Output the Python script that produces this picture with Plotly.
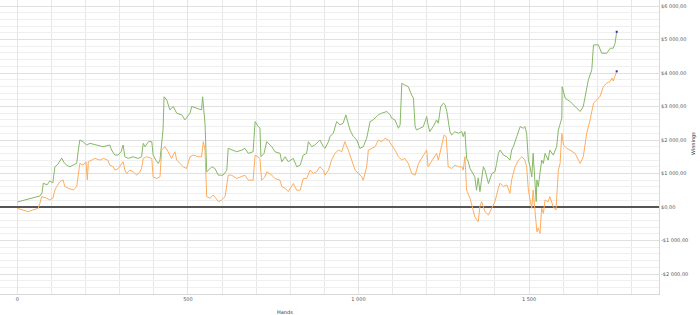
import plotly.graph_objects as go

# Hands / winnings for the green series
green_hands = [0, 22, 51, 66, 72, 76, 87, 95, 104, 110, 119, 130, 136, 144, 154, 163, 174, 178, 183, 192,
               203, 213, 233, 251, 271, 276, 286, 295, 304, 310, 315, 325, 339, 354, 364, 369, 374, 384, 394, 398,
               406, 413, 418, 423, 427, 430, 438, 447, 457, 467, 482, 491, 506, 511, 526, 540, 543, 550, 555, 570,
               579, 589, 603, 614, 618, 629, 643, 658, 667, 677, 691, 697, 706, 711, 714, 723, 731, 746, 755, 770,
               775, 785, 794, 809, 819, 829, 838, 848, 853, 863, 872, 882, 887, 897, 902, 912, 916, 926, 936, 946,
               955, 963, 970, 975, 985, 995, 1004, 1014, 1024, 1034, 1043, 1058, 1068, 1083, 1093, 1097, 1107, 1117, 1122, 1127,
               1136, 1146, 1156, 1161, 1166, 1170, 1180, 1190, 1195, 1200, 1204, 1209, 1219, 1229, 1234, 1241, 1249, 1254, 1259, 1263,
               1268, 1273, 1283, 1293, 1303, 1307, 1312, 1317, 1322, 1327, 1336, 1341, 1346, 1351, 1356, 1366, 1371, 1381, 1391, 1400,
               1405, 1410, 1415, 1425, 1435, 1444, 1449, 1454, 1464, 1474, 1483, 1488, 1493, 1498, 1503, 1508, 1512, 1518, 1521, 1523,
               1527, 1532, 1537, 1542, 1547, 1556, 1561, 1571, 1581, 1586, 1591, 1596, 1597, 1606, 1620, 1635, 1645, 1650, 1659, 1664,
               1674, 1684, 1689, 1703, 1713, 1728, 1738, 1747, 1752, 1757]
green_win = [150, 210, 270, 330, 420, 710, 660, 780, 720, 1200, 1280, 1460, 1340, 1250, 1200, 1250, 1310, 1650, 2000, 1950,
             1850, 1900, 1850, 1800, 1850, 1700, 1550, 1550, 1650, 1850, 1500, 1450, 1500, 1450, 1500, 1900, 1800, 1950, 1950, 1550,
             1400, 1300, 1400, 2050, 2300, 3290, 3190, 2900, 3000, 2800, 2750, 2600, 2800, 3000, 2950, 2900, 3290, 2500, 1050, 1200,
             1150, 950, 950, 1100, 1750, 1700, 1650, 1700, 1750, 1600, 1650, 2550, 2400, 2360, 1500, 1600, 1950, 1800, 1650, 1600,
             1350, 1500, 1350, 1450, 1200, 1250, 1550, 1600, 1950, 1800, 1850, 1950, 2000, 1800, 1750, 1950, 2100, 2200, 2550, 2450,
             2500, 2750, 2450, 2300, 2100, 2000, 1750, 1800, 2050, 2550, 2600, 2750, 2800, 2850, 2750, 2650, 2600, 2350, 2450, 3690,
             3640, 3590, 3340, 3250, 2400, 2300, 2350, 2400, 2550, 2700, 2450, 2250, 2400, 2600, 2500, 3000, 3100, 3050, 2850, 2600,
             2250, 2150, 2250, 2200, 2250, 2100, 2250, 1450, 1350, 1150, 1010, 900, 500, 870, 460, 1200, 1100, 700, 1000, 1050,
             1300, 1600, 1700, 1550, 1500, 1400, 1700, 1800, 2100, 2400, 2350, 2400, 2200, 1400, 1200, 900, 1600, 610, 160, 810,
             610, 1000, 1400, 1300, 1600, 1400, 1700, 1550, 1800, 2300, 2450, 2650, 3590, 3250, 3150, 3000, 2900, 2850, 3000, 3300,
             3800, 4100, 4840, 4840, 4590, 4590, 4740, 4740, 4880, 5230]

# Hands / winnings for the orange series
orange_hands = [0, 17, 32, 45, 61, 66, 71, 86, 95, 104, 110, 115, 125, 134, 139, 149, 164, 174, 178, 183,
                193, 201, 205, 208, 218, 227, 242, 252, 265, 271, 281, 286, 296, 310, 315, 320, 330, 340, 350, 359,
                364, 369, 379, 394, 398, 408, 418, 423, 427, 433, 442, 452, 462, 467, 477, 486, 496, 506, 516, 530,
                540, 545, 550, 555, 565, 574, 582, 589, 599, 609, 618, 628, 643, 658, 667, 677, 691, 697, 706, 711,
                716, 726, 731, 746, 755, 770, 775, 785, 794, 809, 819, 829, 838, 848, 858, 868, 877, 887, 897, 902,
                912, 921, 931, 941, 951, 960, 970, 980, 990, 1000, 1010, 1014, 1024, 1029, 1039, 1049, 1058, 1068, 1078, 1088,
                1097, 1107, 1117, 1127, 1136, 1146, 1156, 1166, 1176, 1185, 1195, 1200, 1204, 1214, 1229, 1234, 1241, 1251, 1257, 1263,
                1273, 1283, 1293, 1303, 1307, 1312, 1317, 1327, 1336, 1341, 1351, 1356, 1361, 1371, 1381, 1391, 1400, 1410, 1415, 1425,
                1435, 1444, 1449, 1459, 1469, 1479, 1488, 1493, 1498, 1503, 1508, 1512, 1518, 1523, 1527, 1532, 1537, 1542, 1547, 1556,
                1561, 1571, 1579, 1586, 1591, 1596, 1601, 1611, 1620, 1635, 1645, 1650, 1659, 1664, 1669, 1679, 1689, 1699, 1708, 1718,
                1728, 1738, 1743, 1747, 1752, 1757]
orange_win = [-40, -90, -140, -90, -40, 110, 310, 260, 210, 260, 510, 610, 760, 810, 610, 560, 510, 610, 900, 1300,
              1250, 1350, 810, 1350, 1400, 1450, 1400, 1450, 1400, 1250, 1200, 1100, 1150, 1350, 1100, 1000, 1100, 1050, 950, 1050,
              1150, 1450, 1500, 1450, 900, 850, 900, 1700, 1750, 1800, 1650, 1450, 1650, 1400, 1300, 1200, 1150, 1500, 1550, 1500,
              1500, 1950, 1700, 310, 260, 360, 260, 160, 210, 310, 950, 950, 850, 900, 950, 800, 800, 1550, 1500, 1450,
              800, 900, 1050, 950, 850, 800, 610, 560, 460, 700, 500, 500, 850, 850, 1100, 1000, 1050, 1200, 1100, 950,
              1100, 1400, 1600, 1700, 1650, 1950, 1700, 1400, 1100, 1000, 900, 800, 1200, 1700, 1750, 1800, 2000, 1950, 2050, 2000,
              1850, 1700, 1500, 1400, 1450, 1300, 1000, 950, 1300, 1450, 1650, 1700, 1200, 1350, 1600, 1400, 1700, 2150, 2100, 1200,
              1150, 1250, 1200, 1200, 1100, 1500, 500, 260, -90, -290, -440, 10, 160, -140, -240, -40, 160, 560, 710, 610,
              660, 410, 810, 1200, 1400, 1500, 1400, 1200, 510, 210, -40, 510, -190, -740, -630, -790, -40, -190, 210, 160,
              310, 10, -90, 1100, 1300, 2200, 1850, 1750, 1700, 1600, 1400, 1300, 1500, 1800, 2200, 2600, 3100, 3200, 3300, 3600,
              3700, 3750, 3850, 3760, 3900, 4050]

x_tick_vals = [0, 500, 1000, 1500]
x_tick_text = ["0", "500", "1 000", "1 500"]
y_tick_vals = [-2000, -1000, 0, 1000, 2000, 3000, 4000, 5000, 6000]
y_tick_text = ["-$2 000,00", "-$1 000,00", "$0,00", "$1 000,00", "$2 000,00",
               "$3 000,00", "$4 000,00", "$5 000,00", "$6 000,00"]

GREEN = "#86b865"
ORANGE = "#ffad5c"

fig = go.Figure()
fig.add_trace(go.Scatter(x=green_hands, y=green_win, mode="lines",
                         line=dict(color=GREEN, width=1), hoverinfo="skip"))
fig.add_trace(go.Scatter(x=orange_hands, y=orange_win, mode="lines",
                         line=dict(color=ORANGE, width=1), hoverinfo="skip"))
fig.add_trace(go.Scatter(x=[green_hands[-1], orange_hands[-1]], y=[green_win[-1], orange_win[-1]],
                         mode="markers", marker=dict(color="#2b2bd9", size=2, symbol="square"),
                         hoverinfo="skip"))

font = dict(family="DejaVu Sans", size=5, color="#555555")

fig.update_layout(
    width=700, height=315,
    margin=dict(l=0, r=41, t=0, b=21),
    paper_bgcolor="white", plot_bgcolor="white",
    showlegend=False,
    font=font,
    xaxis=dict(range=[-51, 1881], tickvals=x_tick_vals, ticktext=x_tick_text,
               showgrid=True, gridcolor="#e4e4e4", gridwidth=1,
               minor=dict(dtick=100, tick0=0, showgrid=True, gridcolor="#e8e8e8", gridwidth=1),
               zeroline=False, showline=True, linecolor="#d8d8d8", linewidth=1,
               ticks="", tickfont=font),
    yaxis=dict(range=[-2597, 6179], side="right", tickvals=y_tick_vals, ticktext=y_tick_text,
               showgrid=True, gridcolor="#e0e0e0", gridwidth=1,
               minor=dict(dtick=200, tick0=0, showgrid=True, gridcolor="#efefef", gridwidth=1),
               zeroline=True, zerolinecolor="#555555", zerolinewidth=2,
               showline=True, linecolor="#d8d8d8", linewidth=1,
               ticks="", tickfont=font),
    annotations=[
        dict(text="Hands", x=0.4325, y=-0.043, xref="paper", yref="paper",
             showarrow=False, font=dict(family="DejaVu Sans", size=5, color="#333333"),
             xanchor="center", yanchor="top"),
        dict(text="Winnings", x=1.0, y=0.51, xref="paper", yref="paper", xshift=34,
             showarrow=False, textangle=-90,
             font=dict(family="DejaVu Sans", size=5, color="#333333"),
             xanchor="center", yanchor="middle"),
    ],
)

fig.write_html("out.html")
